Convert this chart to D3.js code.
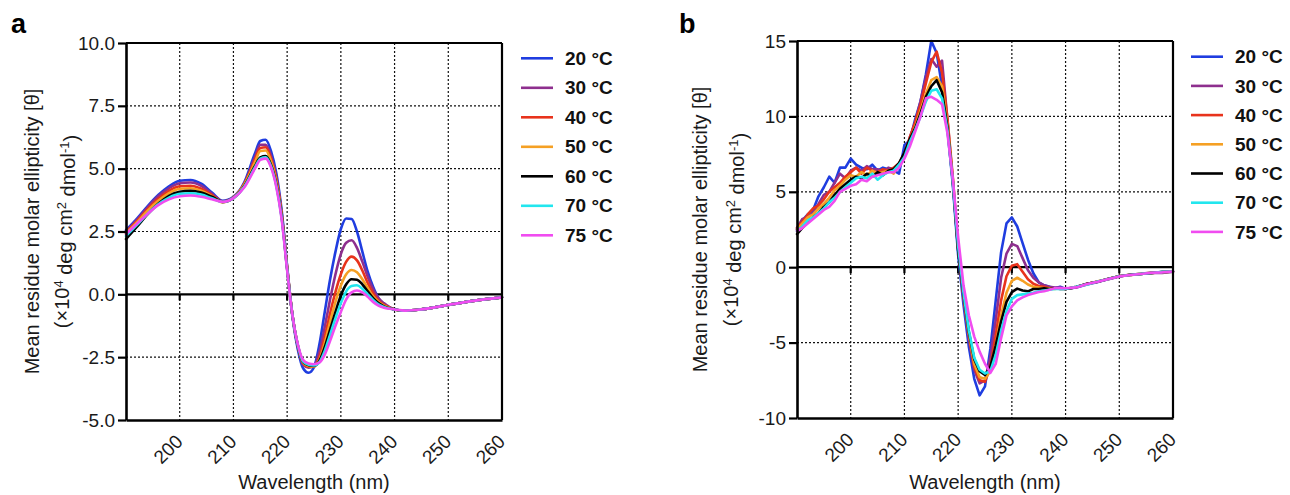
<!DOCTYPE html>
<html><head><meta charset="utf-8">
<script src="https://cdn.jsdelivr.net/npm/d3@7"></script>
<style>
body{margin:0;background:#fff}
text{font-family:"Liberation Sans",Arial,Helvetica,sans-serif}
</style>
</head><body>
<svg id="c" width="1290" height="495"></svg>
<script>
// ---------- data ----------
const temps = ["20 °C","30 °C","40 °C","50 °C","60 °C","70 °C","75 °C"];
const colors = ["#1f3de0","#8e2f8e","#e8331c","#f5a024","#000000","#22e6ee","#f04cf0"];
const xTicks = [200,210,220,230,240,250,260];
const yTicksA = [-5,-2.5,0,2.5,5,7.5,10];
const yTicksB = [-10,-5,0,5,10,15];

// panel a
const wlA = [190,192,194,196,198,200,202,204,206,208,210,212,214,215,216,217,218,219,220,221,222,223,224,225,226,227,228,229,230,231,232,233,234,235,236,237,238,240,242,245,250,255,260];
const a20 = [2.55,3.0,3.5,3.95,4.3,4.52,4.55,4.4,4.05,3.72,3.88,4.45,5.6,6.1,6.15,5.7,4.8,3.3,1.1,-0.9,-2.2,-2.95,-3.12,-2.9,-2.0,-0.7,0.6,1.7,2.6,3.02,3.0,2.5,1.7,0.9,0.3,-0.15,-0.4,-0.6,-0.65,-0.6,-0.42,-0.25,-0.12];
const a30 = [2.5,2.95,3.45,3.9,4.22,4.42,4.45,4.32,4.0,3.7,3.86,4.4,5.45,5.95,5.95,5.5,4.65,3.2,1.1,-0.85,-2.1,-2.8,-2.92,-2.85,-2.3,-1.3,-0.2,0.8,1.6,2.05,2.15,1.85,1.3,0.7,0.2,-0.15,-0.35,-0.6,-0.65,-0.6,-0.42,-0.25,-0.12];
const a40 = [2.45,2.9,3.38,3.8,4.12,4.3,4.32,4.2,3.95,3.68,3.85,4.38,5.35,5.82,5.85,5.4,4.55,3.15,1.05,-0.85,-2.05,-2.75,-2.88,-2.88,-2.5,-1.7,-0.75,0.1,0.8,1.3,1.5,1.35,0.95,0.45,0.05,-0.25,-0.42,-0.6,-0.65,-0.6,-0.42,-0.25,-0.12];
const a50 = [2.42,2.85,3.32,3.72,4.03,4.2,4.22,4.12,3.9,3.66,3.84,4.35,5.25,5.7,5.72,5.3,4.45,3.1,1.05,-0.85,-2.05,-2.72,-2.85,-2.87,-2.6,-1.95,-1.1,-0.3,0.35,0.8,0.97,0.88,0.6,0.25,-0.08,-0.3,-0.45,-0.6,-0.65,-0.6,-0.42,-0.25,-0.12];
const a60 = [2.2,2.68,3.18,3.6,3.92,4.08,4.12,4.05,3.88,3.68,3.83,4.3,5.1,5.45,5.5,5.15,4.35,3.05,1.0,-0.85,-2.05,-2.7,-2.82,-2.85,-2.65,-2.1,-1.4,-0.7,-0.05,0.4,0.6,0.58,0.4,0.12,-0.15,-0.35,-0.48,-0.6,-0.65,-0.6,-0.42,-0.25,-0.12];
const a70 = [2.32,2.75,3.2,3.58,3.85,4.0,4.02,3.97,3.82,3.68,3.83,4.28,5.05,5.4,5.45,5.1,4.3,3.0,1.0,-0.85,-2.03,-2.68,-2.8,-2.83,-2.7,-2.25,-1.6,-0.95,-0.35,0.12,0.33,0.36,0.22,0.0,-0.22,-0.4,-0.5,-0.6,-0.65,-0.6,-0.42,-0.25,-0.12];
const a75 = [2.4,2.8,3.2,3.55,3.78,3.9,3.93,3.88,3.78,3.68,3.83,4.25,5.0,5.35,5.4,5.05,4.25,2.95,0.95,-0.85,-2.0,-2.62,-2.75,-2.78,-2.72,-2.4,-1.85,-1.25,-0.7,-0.2,0.08,0.15,0.08,-0.1,-0.3,-0.45,-0.53,-0.6,-0.65,-0.6,-0.42,-0.25,-0.12];

// panel b
const wlB = [190,191,192,193,194,195,196,197,198,199,200,201,202,203,204,205,206,207,208,209,210,211,212,213,214,215,216,217,218,219,220,221,222,223,224,225,226,227,228,229,230,231,232,233,234,235,236,237,238,239,240,242,244,246,248,250,252,254,256,258,260];
const b20 = [2.5,3.1,3.5,3.8,4.7,5.3,6.0,5.6,6.6,6.6, 7.2,6.8,6.6,6.5,6.8,6.4,6.6,6.5,6.4,6.2, 8.1,8.4,9.8,11.0,12.8,15.0,14.2,12.0,9.2,5.5, 0.8,-2.5,-5.3,-7.4,-8.5,-7.9,-5.4,-2.2,1.0,2.9, 3.3,2.7,1.6,0.5,-0.4,-1.0,-1.2,-1.3,-1.4,-1.3, -1.45, -1.35,-1.15,-0.98,-0.78,-0.6,-0.52,-0.45,-0.38,-0.32,-0.28];
const b30 = [2.6,3.2,3.3,3.6,4.2,4.8,5.0,5.6,6.2,5.9, 6.4,6.6,6.4,6.7,6.5,6.5,6.3,6.6,6.5,6.8, 7.4,8.6,9.6,11.0,12.6,13.8,13.3,13.7,9.8,5.8, 1.2,-2.1,-4.8,-6.8,-7.7,-7.5,-6.0,-3.5,-0.7,0.9, 1.55,1.4,0.6,-0.2,-0.7,-1.0,-1.2,-1.3,-1.35,-1.35, -1.45, -1.3,-1.12,-0.95,-0.8,-0.62,-0.5,-0.44,-0.36,-0.38,-0.3];
const b40 = [2.6,3.0,3.5,3.9,4.1,4.5,5.0,5.3,5.6,6.0, 6.3,6.6,6.2,6.6,6.4,6.3,6.5,6.4,6.6,6.9, 7.5,8.6,9.6,10.8,12.2,13.6,14.3,12.9,9.9,6.0, 1.3,-1.9,-4.5,-6.6,-7.5,-7.6,-6.6,-4.5,-2.2,-0.6, 0.1,0.2,-0.3,-0.8,-1.1,-1.25,-1.3,-1.4,-1.4,-1.4, -1.45, -1.33,-1.1,-0.97,-0.76,-0.6,-0.53,-0.43,-0.4,-0.3,-0.3];
const b50 = [2.5,2.9,3.3,3.5,3.9,4.2,4.6,5.1,5.4,5.8, 6.1,6.0,6.3,6.1,6.4,6.2,6.3,6.4,6.2,6.8, 7.4,8.3,9.3,10.4,11.5,12.4,12.6,12.0,9.5,5.9, 1.3,-1.8,-4.4,-6.4,-7.3,-7.4,-6.9,-5.2,-3.2,-1.7, -0.9,-0.7,-0.9,-1.15,-1.3,-1.35,-1.4,-1.4,-1.45,-1.4, -1.45, -1.3,-1.13,-0.94,-0.78,-0.58,-0.51,-0.44,-0.37,-0.33,-0.28];
const b60 = [2.2,2.6,3.0,3.3,3.6,4.0,4.3,4.8,5.2,5.5, 5.8,6.0,5.9,6.2,6.0,6.3,6.1,6.4,6.5,6.9, 7.6,8.5,9.2,10.2,11.3,12.0,12.4,11.6,9.3,5.7, 1.1,-1.8,-4.3,-6.1,-6.9,-7.15,-6.6,-5.2,-3.6,-2.3, -1.65,-1.42,-1.55,-1.6,-1.45,-1.45,-1.4,-1.45,-1.4,-1.45, -1.45, -1.32,-1.1,-0.96,-0.77,-0.6,-0.5,-0.45,-0.38,-0.32,-0.3];
const b70 = [2.4,2.7,3.1,3.3,3.6,3.9,4.3,4.6,5.0,5.3, 5.6,5.9,6.0,5.9,6.2,5.8,6.1,6.3,6.4,6.8, 7.3,8.3,9.1,10.0,11.0,11.7,11.8,11.2,9.1,5.7, 1.4,-1.7,-4.2,-6.0,-6.8,-7.05,-6.9,-5.8,-4.2,-2.9, -2.1,-1.85,-1.8,-1.75,-1.7,-1.6,-1.55,-1.5,-1.45,-1.45, -1.45, -1.3,-1.14,-0.95,-0.78,-0.6,-0.52,-0.44,-0.38,-0.31,-0.29];
const b75 = [2.4,2.6,2.9,3.2,3.5,3.8,4.0,4.4,5.0,5.2, 5.4,5.5,5.8,5.7,6.0,6.1,6.2,6.3,6.3,6.6, 7.2,8.0,9.0,10.0,11.2,11.3,11.1,10.8,8.9,5.9, 2.0,-1.2,-3.2,-4.6,-5.6,-6.4,-7.0,-6.4,-4.7,-3.2, -2.6,-2.2,-2.0,-1.85,-1.75,-1.65,-1.6,-1.5,-1.4,-1.38, -1.4, -1.34,-1.12,-0.97,-0.79,-0.61,-0.52,-0.45,-0.37,-0.34,-0.28];

// ---------- drawing ----------
const svg = d3.select("#c");
const FONT = '"Liberation Sans",Arial,Helvetica,sans-serif';

function drawPanel(p) {
  const g = svg.append("g");
  const x = d3.scaleLinear().domain([190, 260]).range([p.left, p.right]);
  const y = d3.scaleLinear().domain(p.yDomain).range([p.bottom, p.top]);

  // dotted grid
  g.selectAll(".vg").data(xTicks.filter(t => t < 260)).enter().append("line")
    .attr("x1", d => x(d)).attr("x2", d => x(d))
    .attr("y1", p.top).attr("y2", p.bottom)
    .attr("stroke", "#111").attr("stroke-width", 1.2).attr("stroke-dasharray", "2,2");
  g.selectAll(".hg").data(p.yTicks.filter(t => t !== 0 && t !== p.yDomain[0] && t !== p.yDomain[1])).enter().append("line")
    .attr("x1", p.left).attr("x2", p.right)
    .attr("y1", d => y(d)).attr("y2", d => y(d))
    .attr("stroke", "#111").attr("stroke-width", 1.2).attr("stroke-dasharray", "2,2");

  // zero line with ticks
  g.append("line").attr("x1", p.left).attr("x2", p.right)
    .attr("y1", y(0)).attr("y2", y(0)).attr("stroke", "#000").attr("stroke-width", 2.2);
  g.selectAll(".zt").data(xTicks.filter(t => t < 260)).enter().append("line")
    .attr("x1", d => x(d)).attr("x2", d => x(d))
    .attr("y1", y(0)).attr("y2", y(0) + 6)
    .attr("stroke", "#000").attr("stroke-width", 2.2);

  // data lines
  const line = d3.line().x((d, i) => x(p.wl[i])).y(d => y(d)).curve(p.curve);
  p.series.forEach((s, i) => {
    g.append("path").attr("d", line(s)).attr("fill", "none")
      .attr("stroke", colors[i]).attr("stroke-width", 2.6)
      .attr("stroke-linejoin", "round").attr("stroke-linecap", "round");
  });

  // frame top/right
  g.append("line").attr("x1", p.left).attr("x2", p.right).attr("y1", p.top).attr("y2", p.top)
    .attr("stroke", "#000").attr("stroke-width", 2.2);
  g.append("line").attr("x1", p.right).attr("x2", p.right).attr("y1", p.top).attr("y2", p.bottom)
    .attr("stroke", "#000").attr("stroke-width", 2.2);

  // left axis
  const ax = d3.axisLeft(y).tickValues(p.yTicks).tickFormat(p.fmt).tickSize(8).tickSizeOuter(0).tickPadding(3);
  const gl = g.append("g").attr("transform", `translate(${p.left},0)`).call(ax);
  gl.select(".domain").attr("stroke", "#000").attr("stroke-width", 2.6);
  gl.selectAll(".tick line").attr("stroke", "#000").attr("stroke-width", 2.2);
  gl.selectAll(".tick text").attr("font-size", 19).attr("font-family", FONT).attr("fill", "#1a1a1a");

  // bottom axis
  const bx = d3.axisBottom(x).tickValues(xTicks).tickSize(0).tickSizeOuter(0);
  const gb = g.append("g").attr("transform", `translate(0,${p.bottom})`).call(bx);
  gb.select(".domain").attr("stroke", "#000").attr("stroke-width", 2.6);
  gb.selectAll(".tick text").attr("font-size", 19).attr("font-family", FONT).attr("fill", "#1a1a1a")
    .attr("x", 0).attr("y", 0).attr("dy", "0.35em")
    .attr("text-anchor", "end")
    .attr("transform", "translate(-1,18) rotate(-45)");

  // x title
  g.append("text").attr("x", (p.left + p.right) / 2).attr("y", 489)
    .attr("text-anchor", "middle").attr("font-size", 20).attr("fill", "#1a1a1a").text("Wavelength (nm)");

  // y title
  const cy = (p.top + p.bottom) / 2;
  g.append("text").attr("transform", `translate(${p.t1},${cy}) rotate(-90)`)
    .attr("text-anchor", "middle").attr("font-size", 20).attr("fill", "#1a1a1a")
    .text("Mean residue molar ellipticity [θ]");
  const t2 = g.append("text").attr("transform", `translate(${p.t2},${cy}) rotate(-90)`)
    .attr("text-anchor", "middle").attr("font-size", 20).attr("fill", "#1a1a1a");
  t2.append("tspan").text("(×10");
  t2.append("tspan").attr("dy", "-0.45em").attr("font-size", 13).text("4");
  t2.append("tspan").attr("dy", "0.45em").text(" deg cm");
  t2.append("tspan").attr("dy", "-0.45em").attr("font-size", 13).text("2");
  t2.append("tspan").attr("dy", "0.45em").text(" dmol");
  t2.append("tspan").attr("dy", "-0.45em").attr("font-size", 13).text("-1");
  t2.append("tspan").attr("dy", "0.45em").text(")");

  // panel letter
  g.append("text").attr("x", p.letterX).attr("y", 33).attr("font-size", 27)
    .attr("font-weight", "bold").attr("fill", "#000").text(p.letter);

  // legend
  const lg = g.selectAll(".lg").data(temps).enter().append("g")
    .attr("transform", (d, i) => `translate(0,${p.legY + i * p.legDy})`);
  lg.append("line").attr("x1", p.legX1).attr("x2", p.legX2).attr("y1", 0).attr("y2", 0)
    .attr("stroke", (d, i) => colors[i]).attr("stroke-width", 2.6);
  lg.append("text").attr("x", p.legT).attr("y", 0).attr("dy", "0.35em")
    .attr("font-size", 19).attr("font-weight", "bold").attr("fill", "#111").text(d => d);
}

drawPanel({
  left: 126, right: 502, top: 43, bottom: 420,
  yDomain: [-5, 10], yTicks: yTicksA, fmt: d => d.toFixed(1),
  wl: wlA, series: [a20, a30, a40, a50, a60, a70, a75], curve: d3.curveMonotoneX,
  t1: 39, t2: 69, letter: "a", letterX: 11,
  legX1: 521, legX2: 553, legT: 565, legY: 58.3, legDy: 29.5
});
drawPanel({
  left: 797, right: 1173, top: 41, bottom: 418,
  yDomain: [-10, 15], yTicks: yTicksB, fmt: d => String(d),
  wl: wlB, series: [b20, b30, b40, b50, b60, b70, b75], curve: d3.curveLinear,
  t1: 707, t2: 738, letter: "b", letterX: 679,
  legX1: 1191, legX2: 1223, legT: 1235, legY: 56.7, legDy: 29.2
});
</script>
</body></html>
